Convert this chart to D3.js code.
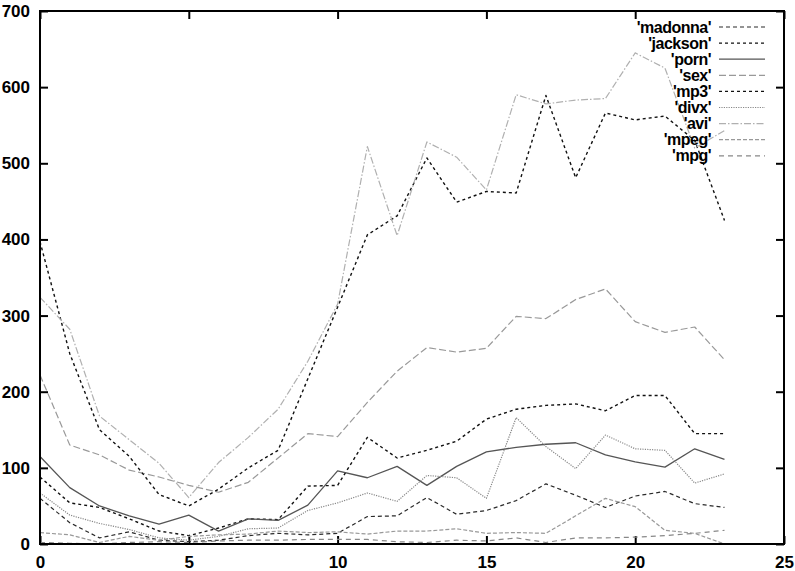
<!DOCTYPE html>
<html>
<head>
<meta charset="utf-8">
<script src="https://cdn.jsdelivr.net/npm/d3@7"></script>
<style>
  html, body { margin: 0; padding: 0; background: #fff; }
  svg text { font-family: "Liberation Sans", Arial, Helvetica, sans-serif; font-weight: bold; }
</style>
</head>
<body>
<svg id="chart" width="795" height="571"></svg>
<script>
// Hourly counts per search term
const hours = d3.range(0, 24);
const madonna = [60, 28, 8, 16, 5, 3, 5, 11, 14, 12, 14, 36, 37, 61, 39, 44, 57, 79, 64, 48, 63, 69, 53, 48];
const jackson = [88, 54, 48, 33, 17, 11, 21, 33, 32, 76, 77, 140, 113, 123, 135, 164, 177, 182, 184, 175, 195, 195, 145, 145];
const porn    = [115, 74, 50, 37, 26, 38, 17, 33, 31, 51, 96, 87, 102, 77, 102, 121, 127, 131, 133, 117, 108, 101, 125, 111];
const sex     = [222, 130, 117, 97, 88, 77, 68, 81, 113, 145, 141, 186, 227, 258, 252, 257, 299, 296, 321, 335, 292, 278, 285, 242];
const mp3     = [397, 250, 150, 115, 65, 50, 72, 100, 123, 217, 311, 406, 431, 507, 449, 463, 461, 589, 481, 566, 557, 562, 530, 425];
const divx    = [67, 38, 27, 19, 8, 5, 10, 20, 21, 44, 54, 67, 56, 90, 87, 60, 166, 128, 99, 143, 125, 123, 80, 92];
const avi     = [324, 282, 168, 137, 106, 61, 107, 140, 177, 240, 315, 522, 405, 528, 508, 465, 590, 578, 583, 585, 645, 625, 520, 543];
const mpeg    = [15, 12, 2, 10, 5, 10, 12, 13, 17, 15, 16, 13, 17, 17, 20, 14, 15, 14, 37, 60, 49, 18, 14, 0];
const mpg     = [2, 1, 0, 2, 3, 2, 4, 5, 5, 6, 6, 6, 3, 2, 5, 4, 8, 2, 8, 8, 9, 11, 14, 18];

const xTicks = [0, 5, 10, 15, 20, 25];
const yTicks = [0, 100, 200, 300, 400, 500, 600, 700];

const series = [
  { name: "'madonna'", values: madonna, color: "#2a2a2a", dash: "4,3",       width: 1.2 },
  { name: "'jackson'", values: jackson, color: "#111",    dash: "3,3",       width: 1.4 },
  { name: "'porn'",    values: porn,    color: "#555",    dash: null,        width: 1.3 },
  { name: "'sex'",     values: sex,     color: "#999",    dash: "7,3",       width: 1.2 },
  { name: "'mp3'",     values: mp3,     color: "#111",    dash: "3,3",       width: 1.4 },
  { name: "'divx'",    values: divx,    color: "#888",    dash: "1.2,1.2",   width: 1.2 },
  { name: "'avi'",     values: avi,     color: "#b0b0b0", dash: "7,2,1.5,2", width: 1.2 },
  { name: "'mpeg'",    values: mpeg,    color: "#999",    dash: "4,2",       width: 1.2 },
  { name: "'mpg'",     values: mpg,     color: "#888",    dash: "5,4",       width: 1.2 }
];

const svg = d3.select("#chart");
const margin = { left: 40, right: 11, top: 11, bottom: 27 };
const W = 795, H = 571;

const x = d3.scaleLinear().domain([0, 25]).range([margin.left, W - margin.right]);
const y = d3.scaleLinear().domain([0, 700]).range([H - margin.bottom, margin.top]);

const tickLen = 8;
const frame = svg.append("g");

// inward ticks on all four sides, gnuplot-style mirrored
frame.append("g")
  .attr("transform", `translate(0,${y(0)})`)
  .call(d3.axisBottom(x).tickValues(xTicks).tickSizeInner(-tickLen).tickSizeOuter(0).tickPadding(tickLen + 4))
  .call(g => g.select(".domain").remove());
frame.append("g")
  .attr("transform", `translate(0,${y(700)})`)
  .call(d3.axisTop(x).tickValues(xTicks).tickSizeInner(-tickLen).tickSizeOuter(0).tickFormat(""))
  .call(g => g.select(".domain").remove());
frame.append("g")
  .attr("transform", `translate(${x(0)},0)`)
  .call(d3.axisLeft(y).tickValues(yTicks).tickSizeInner(-tickLen).tickSizeOuter(0).tickPadding(tickLen + 2))
  .call(g => g.select(".domain").remove());
frame.append("g")
  .attr("transform", `translate(${x(25)},0)`)
  .call(d3.axisRight(y).tickValues(yTicks).tickSizeInner(-tickLen).tickSizeOuter(0).tickFormat(""))
  .call(g => g.select(".domain").remove());

frame.selectAll(".tick line").attr("stroke", "#000").attr("stroke-width", 2);
frame.selectAll(".tick text")
  .attr("font-size", 17)
  .attr("fill", "#000")
  .attr("font-family", "'Liberation Sans', Arial, sans-serif")
  .attr("font-weight", "bold");

// data lines
const line = d3.line().x((d, i) => x(hours[i])).y(d => y(d));
const plot = svg.append("g");
series.forEach(s => {
  plot.append("path")
    .datum(s.values)
    .attr("d", line)
    .attr("fill", "none")
    .attr("stroke", s.color)
    .attr("stroke-width", s.width)
    .attr("stroke-dasharray", s.dash)
    .attr("stroke-linejoin", "round");
});

// plot border
svg.append("rect")
  .attr("x", x(0)).attr("y", y(700))
  .attr("width", x(25) - x(0)).attr("height", y(0) - y(700))
  .attr("fill", "none").attr("stroke", "#000").attr("stroke-width", 2);

// key, top right
const key = svg.append("g");
const keyTextX = 711, keyLineX1 = 719, keyLineX2 = 765, keyY0 = 27, keyStep = 16.1;
series.forEach((s, i) => {
  const yy = keyY0 + i * keyStep;
  key.append("text")
    .attr("x", keyTextX).attr("y", yy)
    .attr("dy", "0.35em")
    .attr("text-anchor", "end")
    .attr("font-size", 16)
    .attr("letter-spacing", -0.5)
    .attr("fill", "#000")
    .text(s.name);
  key.append("line")
    .attr("x1", keyLineX1).attr("x2", keyLineX2)
    .attr("y1", yy).attr("y2", yy)
    .attr("stroke", s.color)
    .attr("stroke-width", s.width)
    .attr("stroke-dasharray", s.dash);
});
</script>
</body>
</html>
